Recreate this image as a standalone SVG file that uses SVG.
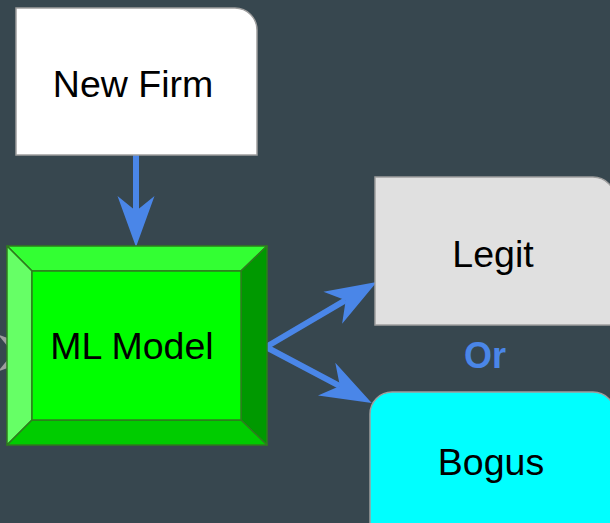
<svg xmlns="http://www.w3.org/2000/svg" width="610" height="523" viewBox="0 0 610 523">
  <style>
    .label { font-family: "Liberation Sans", Arial, sans-serif; font-size: 37.5px; fill: #000000; text-anchor: middle; }
    .or { font-family: "Liberation Sans", Arial, sans-serif; font-size: 36px; font-weight: bold; fill: #4a86e8; text-anchor: middle; }
    .box { stroke: #9e9e9e; stroke-width: 1.5; }
    .flow { fill: none; stroke: #4a86e8; stroke-width: 6; stroke-linejoin: miter; }
    .bevel { stroke: #2e7d1e; stroke-width: 1.5; stroke-linejoin: round; }
  </style>
  <defs>
    <!-- concave arrowhead; origin sits at the notch where the shaft ends -->
    <marker id="head" markerUnits="userSpaceOnUse" markerWidth="60" markerHeight="40" viewBox="-16 -20 54 40" refX="0" refY="0" orient="auto-start-reverse" overflow="visible">
      <path d="M36,0 L-15,-18.5 L0,0 L-15,18.5 Z" fill="#4a86e8"/>
    </marker>
  </defs>

  <rect width="610" height="523" fill="#37474f"/>

  <!-- incoming arrow from the left, mostly hidden behind the model -->
  <g id="incoming">
    <path d="M49,353 L-2,334.5 L13,353 L-2,371.5 Z" fill="#9e9e9e"/>
  </g>

  <g id="connectors">
    <path class="flow" d="M136,155 L136,211" marker-end="url(#head)"/>
    <path class="flow" d="M345.7,300.2 L266,347 L339.9,386.1" marker-start="url(#head)" marker-end="url(#head)"/>
  </g>

  <g id="new-firm">
    <path class="box" d="M16,8 H235 A22,22 0 0 1 257,30 V155 H16 Z" fill="#ffffff"/>
    <text class="label" x="133" y="97">New Firm</text>
  </g>

  <g id="ml-model">
    <polygon class="bevel" points="7,246 267,246 241,271 32,271" fill="#33ff33"/>
    <polygon class="bevel" points="7,246 32,271 32,420 7,445" fill="#66ff66"/>
    <polygon class="bevel" points="267,246 267,445 241,420 241,271" fill="#009900"/>
    <polygon class="bevel" points="7,445 32,420 241,420 267,445" fill="#00cc00"/>
    <rect class="bevel" x="32" y="271" width="209" height="149" fill="#00ff00"/>
    <text class="label" x="132" y="359">ML Model</text>
  </g>

  <g id="legit">
    <path class="box" d="M375,177 H593 A22,22 0 0 1 615,199 V325 H375 Z" fill="#e0e0e0"/>
    <text class="label" x="493" y="267">Legit</text>
  </g>

  <g id="or-label">
    <text class="or" x="485" y="368">Or</text>
  </g>

  <g id="bogus">
    <path class="box" d="M370,530 V414 A22,22 0 0 1 392,392 H593 A22,22 0 0 1 615,414 V530 Z" fill="#00ffff"/>
    <text class="label" x="491" y="475">Bogus</text>
  </g>
</svg>
